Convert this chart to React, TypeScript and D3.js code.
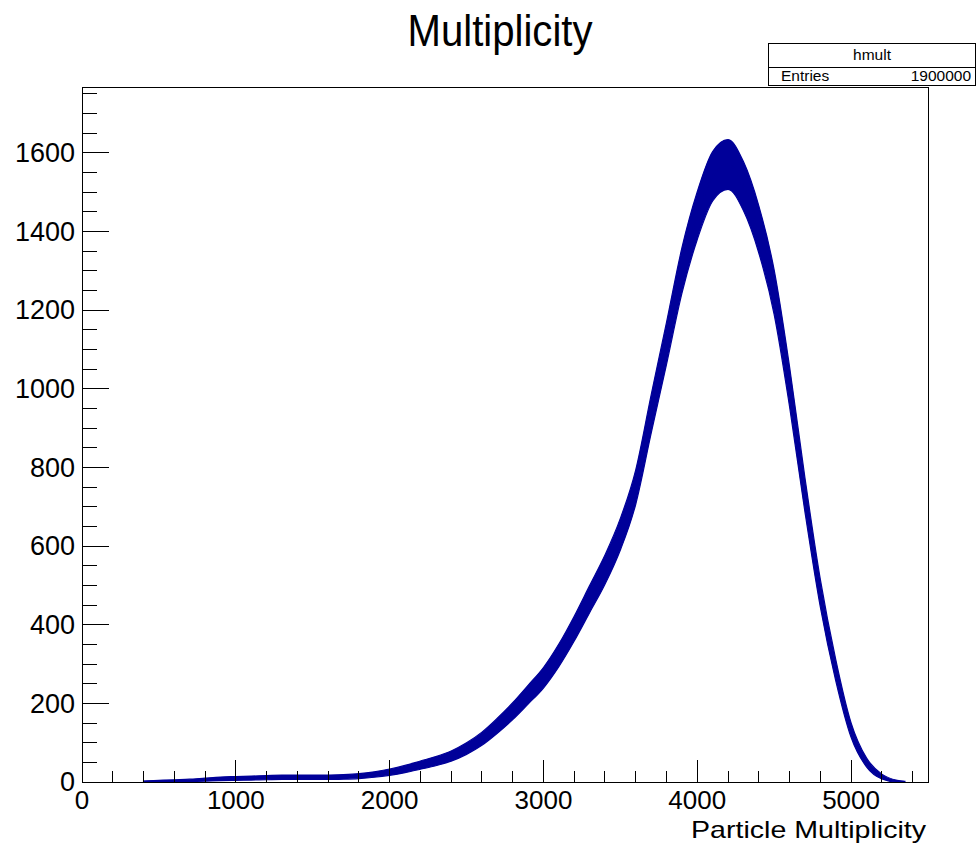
import React from "react";
import * as d3 from "d3";

// ---- data (bin centres every 100 units) ----
const multiplicity = [
  400, 500, 600, 700, 800, 900, 1000, 1100, 1200, 1300, 1400, 1500, 1600, 1700,
  1800, 1900, 2000, 2100, 2200, 2300, 2400, 2500, 2600, 2700, 2800, 2900, 3000,
  3100, 3200, 3300, 3400, 3500, 3600, 3700, 3800, 3900, 4000, 4100, 4200, 4300,
  4400, 4500, 4600, 4700, 4800, 4900, 5000, 5100, 5200, 5300, 5350,
];
const counts = [
  1, 2, 3, 4, 6, 8, 9, 10, 11, 12, 12, 12, 12, 13,
  15, 19, 25, 33, 43, 53, 66, 85, 110, 143, 180, 222, 265,
  322, 390, 465, 540, 630, 750, 935, 1115, 1300, 1440, 1540, 1570, 1515,
  1405, 1245, 1005, 730, 480, 285, 132, 50, 14, 2, 0.5,
];
const xMajorTicks = [0, 1000, 2000, 3000, 4000, 5000];
const yMajorTicks = [0, 200, 400, 600, 800, 1000, 1200, 1400, 1600];
const histName = "hmult";
const entriesLabel = "Entries";
const entriesValue = "1900000";
const titleText = "Multiplicity";
const xTitle = "Particle Multiplicity";

const X_MAX = 5500;
const Y_MAX = 1767;

export default function App() {
  const W = 976;
  const H = 844;
  const L = 82, R = 928, T = 87, B = 782;
  const x = d3.scaleLinear().domain([0, X_MAX]).range([L, R]);
  const y = d3.scaleLinear().domain([0, Y_MAX]).range([B, T]);
  const color = "#000099";
  const font = "'Liberation Sans', Arial, Helvetica, sans-serif";

  const pts = multiplicity.map((m, i) => ({ m, c: counts[i] }));
  const k = 1.6;
  const band = d3
    .area<{ m: number; c: number }>()
    .x((d) => x(d.m))
    .y0((d) => y(Math.max(0, d.c - k * Math.sqrt(d.c))))
    .y1((d) => y(d.c + k * Math.sqrt(d.c)))
    .curve(d3.curveMonotoneX);
  const line = d3
    .line<{ m: number; c: number }>()
    .x((d) => x(d.m))
    .y((d) => y(d.c))
    .curve(d3.curveMonotoneX);

  const xMinor = d3.range(0, X_MAX + 1, 200).filter((v) => v % 1000 !== 0);
  const yMinor = d3.range(0, Y_MAX, 50).filter((v) => v % 200 !== 0);

  return (
    <svg
      width={W}
      height={H}
      style={{ position: "absolute", left: 0, top: 0, background: "#fff" }}
      fontFamily={font}
    >
      <rect x={0} y={0} width={W} height={H} fill="#fff" />
      {/* title */}
      <text x={500} y={46} fontSize={44} textAnchor="middle" textLength={185} lengthAdjust="spacingAndGlyphs">
        {titleText}
      </text>

      {/* histogram */}
      <path d={band(pts) || ""} fill={color} stroke={color} strokeWidth={1.2} />
      <path d={line(pts) || ""} fill="none" stroke={color} strokeWidth={1.5} />

      {/* frame */}
      <rect x={L} y={T} width={R - L} height={B - T} fill="none" stroke="#000" strokeWidth={1} shapeRendering="crispEdges" />

      {/* x ticks */}
      {xMajorTicks.map((v) => (
        <line key={"xM" + v} x1={x(v)} x2={x(v)} y1={B} y2={B - 22} stroke="#000" shapeRendering="crispEdges" />
      ))}
      {xMinor.map((v) => (
        <line key={"xm" + v} x1={x(v)} x2={x(v)} y1={B} y2={B - 11} stroke="#000" shapeRendering="crispEdges" />
      ))}
      {xMajorTicks.map((v) => (
        <text key={"xl" + v} x={x(v)} y={809} fontSize={26} textAnchor="middle">
          {v}
        </text>
      ))}
      <text x={926} y={838} fontSize={24} textAnchor="end" textLength={235} lengthAdjust="spacingAndGlyphs">
        {xTitle}
      </text>

      {/* y ticks */}
      {yMajorTicks.map((v) => (
        <line key={"yM" + v} x1={L} x2={L + 27} y1={y(v)} y2={y(v)} stroke="#000" shapeRendering="crispEdges" />
      ))}
      {yMinor.map((v) => (
        <line key={"ym" + v} x1={L} x2={L + 15} y1={y(v)} y2={y(v)} stroke="#000" shapeRendering="crispEdges" />
      ))}
      {yMajorTicks.map((v) => (
        <text key={"yl" + v} x={75} y={y(v)} dy="0.35em" fontSize={27} textAnchor="end">
          {v}
        </text>
      ))}

      {/* stats box */}
      <rect x={768.5} y={43.5} width={207} height={42} fill="#fff" stroke="#000" strokeWidth={1} />
      <line x1={768.5} x2={975.5} y1={67.5} y2={67.5} stroke="#000" strokeWidth={1} />
      <text x={872} y={60} fontSize={15.5} textAnchor="middle">
        {histName}
      </text>
      <text x={781} y={81} fontSize={15.5} textAnchor="start">
        {entriesLabel}
      </text>
      <text x={971} y={81} fontSize={15.5} textAnchor="end">
        {entriesValue}
      </text>
    </svg>
  );
}
